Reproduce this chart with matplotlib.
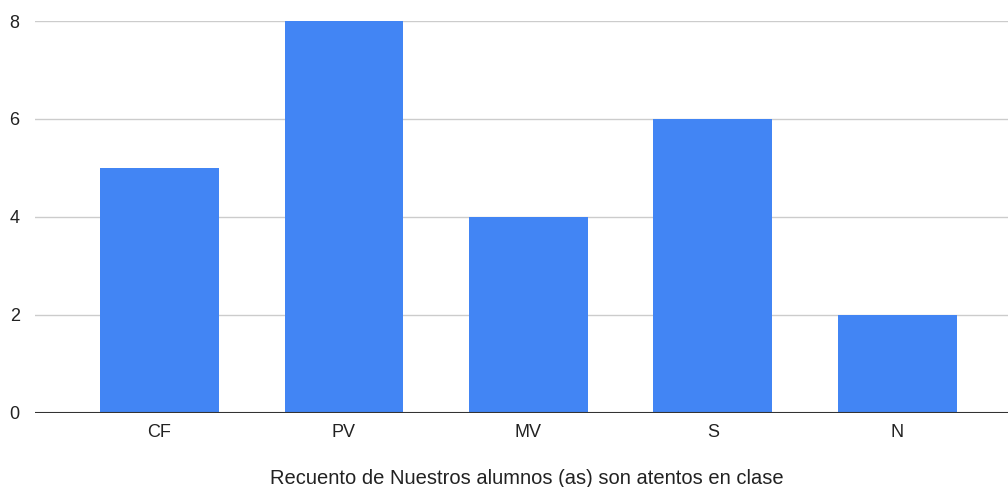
import matplotlib
matplotlib.use("Agg")
import matplotlib.pyplot as plt

categories = ["CF", "PV", "MV", "S", "N"]
values = [5, 8, 4, 6, 2]
yticks = [0, 2, 4, 6, 8]
xlabel = "Recuento de Nuestros alumnos (as) son atentos en clase"

plt.rcParams['font.family'] = ['Liberation Sans', 'DejaVu Sans']

fig = plt.figure(figsize=(10.08, 4.87), dpi=100)
ax = fig.add_axes([35/1008, 74.3/487, 1 - 35/1008, (412.7-21)/487])

x = list(range(len(categories)))
ax.bar(x, values, width=0.644, color="#4285F4", zorder=3)
ax.set_xlim(-0.675, 4.6)
ax.set_ylim(0, 8)
ax.set_yticks(yticks)
ax.set_yticklabels([str(v) for v in yticks], fontsize=13, color="#222222")
ax.set_xticks(x)
ax.set_xticklabels(categories, fontsize=13, color="#222222")
ax.grid(axis="y", color="#cccccc", linewidth=1, zorder=0)
ax.axhline(0, color="#333333", linewidth=1.5, zorder=4)
for s in ax.spines.values():
    s.set_visible(False)
ax.tick_params(axis="both", length=0)
ax.tick_params(axis="y", pad=11)
ax.tick_params(axis="x", pad=8)
fig.text(527/1008, 1 - 478/487, xlabel, fontsize=14.5, color="#222222",
         ha="center", va="center")
fig.savefig("out.png", dpi=100)
